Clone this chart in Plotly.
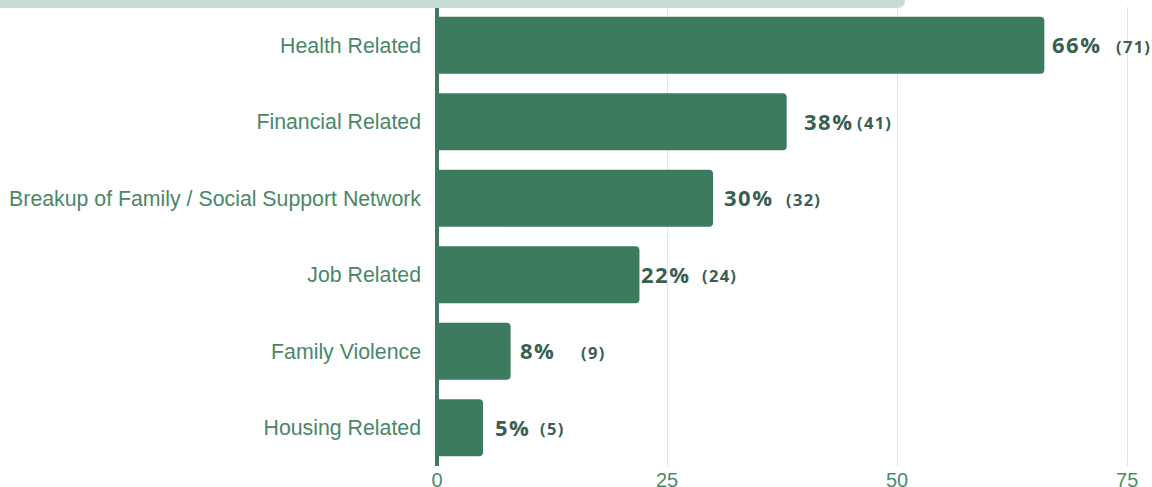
import plotly.graph_objects as go

categories = ["Health Related", "Financial Related", "Breakup of Family / Social Support Network",
              "Job Related", "Family Violence", "Housing Related"]
percents = [66, 38, 30, 22, 8, 5]
counts = [71, 41, 32, 24, 9, 5]
x_ticks = [0, 25, 50, 75]

# label placement tweaks (pixels)
pct_shift = [6, 15, 9, 0, 7, 10]
cnt_gap = [64, 53, 62, 61, 61, 45]

BAR = "#3d7b5e"
LABEL = "#3b5f4f"
AXIS_TXT = "#4e8b6b"

fig = go.Figure(go.Bar(
    x=percents, y=categories, orientation="h",
    marker=dict(color=BAR, cornerradius=4, line=dict(width=0)),
    width=0.745, hoverinfo="skip"
))

annotations = []
for c, p, n, s, g in zip(categories, percents, counts, pct_shift, cnt_gap):
    annotations.append(dict(x=p, y=c, xref="x", yref="y",
                            text=f"<span style='letter-spacing:1.5px'><b>{p}%</b></span>",
                            showarrow=False, xanchor="left", yanchor="middle", xshift=s, yshift=1,
                            font=dict(family="Open Sans", size=22, color=LABEL)))
    annotations.append(dict(x=p, y=c, xref="x", yref="y",
                            text=f"<span style='letter-spacing:1.3px'><b>({n})</b></span>",
                            showarrow=False, xanchor="left", yanchor="middle", xshift=s + g, yshift=-1,
                            font=dict(family="Open Sans", size=16.5, color=LABEL)))

# decorative header band (partially visible)
y0 = 0.9978
rx, ry = 0.0112, 0.0174
xr = 0.6545
band = dict(type="path", xref="paper", yref="paper",
            path=f"M -0.62,1.06 L {xr},1.06 L {xr},{y0+ry} Q {xr},{y0} {xr-rx},{y0} L -0.62,{y0} Z",
            fillcolor="#c6dbd2", line=dict(width=0), layer="above")

fig.update_layout(
    width=1152, height=487,
    margin=dict(l=437, r=0, t=7, b=21, autoexpand=False),
    paper_bgcolor="white", plot_bgcolor="white",
    showlegend=False,
    annotations=annotations,
    shapes=[band],
    font=dict(family="Liberation Sans", color=AXIS_TXT),
    xaxis=dict(range=[0, 77.7], tickvals=x_ticks, ticktext=[str(v) for v in x_ticks],
               showgrid=True, gridcolor="#dce8e2", gridwidth=1,
               zeroline=True, zerolinecolor=BAR, zerolinewidth=4,
               tickfont=dict(family="Liberation Sans", size=20, color=AXIS_TXT),
               ticklabelstandoff=0, automargin=False,
               showline=False, fixedrange=True),
    yaxis=dict(categoryorder="array", categoryarray=categories, autorange="reversed",
               tickfont=dict(family="Liberation Sans", size=21.3, color="#4a8767"),
               ticklabelstandoff=15, automargin=False,
               showgrid=False, showline=False, fixedrange=True),
)

fig.write_html("out.html", config={"displayModeBar": False},
               post_script="document.body.style.margin='0';")
